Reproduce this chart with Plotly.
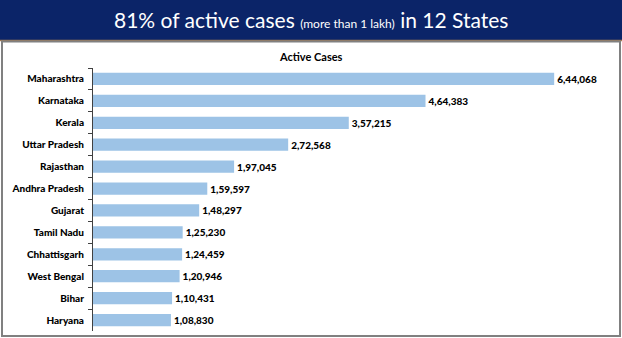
import plotly.graph_objects as go

W, H = 622, 338

states = ["Maharashtra", "Karnataka", "Kerala", "Uttar Pradesh", "Rajasthan",
          "Andhra Pradesh", "Gujarat", "Tamil Nadu", "Chhattisgarh",
          "West Bengal", "Bihar", "Haryana"]
active_cases = [644068, 464383, 357215, 272568, 197045, 159597,
                148297, 125230, 124459, 120946, 110431, 108830]


def indian_format(n):
    s = str(int(n))
    if len(s) <= 3:
        return s
    head, tail = s[:-3], s[-3:]
    groups = []
    while len(head) > 2:
        groups.insert(0, head[-2:])
        head = head[:-2]
    if head:
        groups.insert(0, head)
    return ",".join(groups) + "," + tail


labels = [indian_format(v) for v in active_cases]

def px_x(p):
    return p / W

def px_y(p):
    return 1 - p / H

FONT = "Lato"

fig = go.Figure(go.Bar(
    x=active_cases,
    y=states,
    orientation="h",
    marker=dict(color="#9dc3e6", line=dict(width=0)),
    width=0.56,
    text=labels,
    textposition="outside",
    textfont=dict(family=FONT, size=10, color="#000000", weight=900),
    cliponaxis=False,
    hoverinfo="skip",
))

fig.update_layout(
    width=W, height=H,
    margin=dict(l=0, r=0, t=0, b=0),
    paper_bgcolor="white",
    plot_bgcolor="white",
    showlegend=False,
    xaxis=dict(domain=[px_x(93), px_x(620)], range=[0, 736000],
               visible=False, fixedrange=True),
    yaxis=dict(domain=[px_y(331), px_y(68)], autorange="reversed",
               showline=True, linecolor="#404040", linewidth=1,
               ticks="outside", ticklen=4, tickcolor="#404040",
               tickson="boundaries", showgrid=False,
               tickfont=dict(family=FONT, size=10, color="#000000", weight=900),
               ticklabelstandoff=6),
    shapes=[
        # navy header band
        dict(type="rect", xref="paper", yref="paper",
             x0=0, x1=1, y0=px_y(40), y1=1,
             fillcolor="#0b2468", line=dict(width=0), layer="below"),
        # thin accent line under the header
        dict(type="line", xref="paper", yref="paper",
             x0=0, x1=1, y0=px_y(40.5), y1=px_y(40.5),
             line=dict(color="#a07850", width=1.5)),
        # panel border
        dict(type="rect", xref="paper", yref="paper",
             x0=px_x(2), x1=px_x(620), y0=px_y(336), y1=px_y(41.5),
             line=dict(color="#808080", width=2), fillcolor="rgba(0,0,0,0)"),
    ],
    annotations=[
        dict(xref="paper", yref="paper", x=px_x(311), y=px_y(20),
             xanchor="center", yanchor="middle", showarrow=False,
             text="81% of active cases <span style='font-size:12px'>(more than 1 lakh)</span> in 12 States",
             font=dict(family=FONT, size=21, color="white")),
        dict(xref="paper", yref="paper", x=px_x(311), y=px_y(57),
             xanchor="center", yanchor="middle", showarrow=False,
             text="<b>Active Cases</b>",
             font=dict(family=FONT, size=11, color="#000000")),
    ],
)

fig.write_html("out.html")
